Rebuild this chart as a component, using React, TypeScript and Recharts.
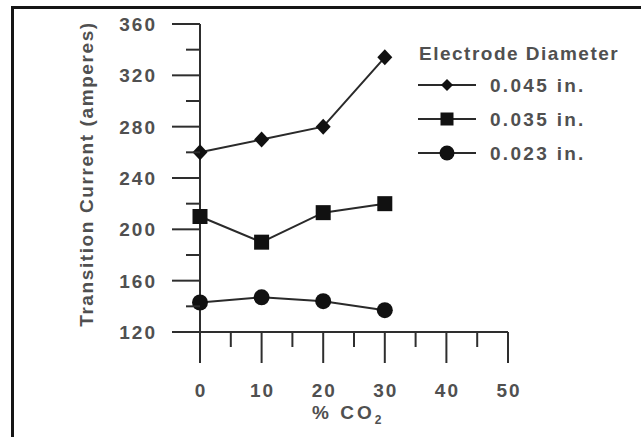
import React from 'react';
import { LineChart, Line, XAxis, YAxis } from 'recharts';

const co2 = [0, 10, 20, 30];
const d045 = [260, 270, 280, 334];
const d035 = [210, 190, 213, 220];
const d023 = [143, 147, 144, 137];
const seriesNames = ['0.045 in.', '0.035 in.', '0.023 in.'];
const legendTitle = 'Electrode Diameter';
const yTicks = [120, 140, 160, 180, 200, 220, 240, 260, 280, 300, 320, 340, 360];
const yMajor = [120, 160, 200, 240, 280, 320, 360];
const xTicks = [0, 5, 10, 15, 20, 25, 30, 35, 40, 45, 50];
const xMajor = [0, 10, 20, 30, 40, 50];
const yLabel = 'Transition Current (amperes)';

const data = co2.map((c, i) => ({ co2: c, s0: d045[i], s1: d035[i], s2: d023[i] }));

const AXIS = '#2e2e2e';
const LINE = '#2a2a2a';
const MARK = '#111111';
const TEXT = '#505050';
const FONT = '"Liberation Sans", Arial, sans-serif';
const textStyle: any = { fontFamily: FONT, fontWeight: 700, fontSize: 19, letterSpacing: 1.5, fill: TEXT };

const Marker = ({ kind, cx, cy, small }: any) => {
  if (kind === 0) {
    const w = small ? 6 : 7.5;
    const h = small ? 6 : 8;
    return <polygon points={`${cx - w},${cy} ${cx},${cy - h} ${cx + w},${cy} ${cx},${cy + h}`} fill={MARK} />;
  }
  if (kind === 1) {
    const s = small ? 13 : 15;
    return <rect x={cx - s / 2} y={cy - s / 2} width={s} height={s} fill={MARK} />;
  }
  return <circle cx={cx} cy={cy} r={small ? 7.5 : 8} fill={MARK} />;
};

const makeDot = (kind: number) => (props: any) => {
  const { cx, cy, index } = props;
  return <Marker key={`d${kind}-${index}`} kind={kind} cx={cx} cy={cy} />;
};

const YTick = (props: any) => {
  const { x, y, payload } = props;
  const v = payload.value;
  const major = yMajor.includes(v);
  return (
    <g>
      <line x1={x - (major ? 28 : 14)} x2={x} y1={y} y2={y} stroke={AXIS} strokeWidth={2} />
      {major && (
        <text x={x - 43} y={y} dy={7} textAnchor="end" style={{ ...textStyle, letterSpacing: 2 }}>
          {v}
        </text>
      )}
    </g>
  );
};

const XTick = (props: any) => {
  const { x, y, payload } = props;
  const v = payload.value;
  const major = xMajor.includes(v);
  return (
    <g>
      <line x1={x} x2={x} y1={y} y2={y + (major ? 31 : 15)} stroke={AXIS} strokeWidth={2} />
      {major && (
        <text x={x + 1} y={y + 65} textAnchor="middle" style={{ ...textStyle, letterSpacing: 2 }}>
          {v}
        </text>
      )}
    </g>
  );
};

const Legend = () => (
  <svg width={230} height={140} style={{ position: 'absolute', left: 410, top: 30 }}>
    <text x={9} y={30} style={textStyle}>{legendTitle}</text>
    {seriesNames.map((n, i) => {
      const cy = 55 + i * 34;
      return (
        <g key={n}>
          <line x1={8} x2={66} y1={cy} y2={cy} stroke={LINE} strokeWidth={2} />
          <Marker kind={i} cx={37} cy={cy} small />
          <text x={80} y={cy + 7} style={{ ...textStyle, letterSpacing: 2.3 }}>{n}</text>
        </g>
      );
    })}
  </svg>
);

export default function App() {
  return (
    <div style={{ position: 'absolute', left: 0, top: 0, width: 641, height: 437, background: '#fff', overflow: 'hidden' }}>
      <div style={{ position: 'absolute', left: 11, top: 6, width: 700, height: 500, borderLeft: '3px solid #151515', borderTop: '3px solid #151515' }} />
      <div style={{ position: 'absolute', left: 0, top: 0 }}>
        <LineChart width={641} height={437} data={data} margin={{ top: 24, right: 133, bottom: 0, left: 0 }}>
          <XAxis
            dataKey="co2"
            type="number"
            domain={[0, 50]}
            ticks={xTicks}
            interval={0}
            tickSize={0}
            tickMargin={0}
            tickLine={false}
            tick={<XTick />}
            height={105}
            axisLine={{ stroke: AXIS, strokeWidth: 2 }}
            label={{
              content: () => (
                <text x={312} y={419} style={{ ...textStyle, letterSpacing: 3 }}>
                  % CO<tspan dy={5} style={{ fontSize: 12 }}>2</tspan>
                </text>
              ),
            }}
          />
          <YAxis
            type="number"
            domain={[120, 360]}
            ticks={yTicks}
            interval={0}
            tickSize={0}
            tickMargin={0}
            tickLine={false}
            tick={<YTick />}
            width={200}
            axisLine={{ stroke: AXIS, strokeWidth: 2 }}
            label={{
              content: () => (
                <text
                  x={86}
                  y={174}
                  transform="rotate(-90 86 174)"
                  textAnchor="middle"
                  dominantBaseline="central"
                  style={{ ...textStyle, letterSpacing: 1.6 }}
                >
                  {yLabel}
                </text>
              ),
            }}
          />
          <Line dataKey="s0" name={seriesNames[0]} stroke={LINE} strokeWidth={2} dot={makeDot(0)} isAnimationActive={false} />
          <Line dataKey="s1" name={seriesNames[1]} stroke={LINE} strokeWidth={2} dot={makeDot(1)} isAnimationActive={false} />
          <Line dataKey="s2" name={seriesNames[2]} stroke={LINE} strokeWidth={2} dot={makeDot(2)} isAnimationActive={false} />
        </LineChart>
      </div>
      <Legend />
    </div>
  );
}
